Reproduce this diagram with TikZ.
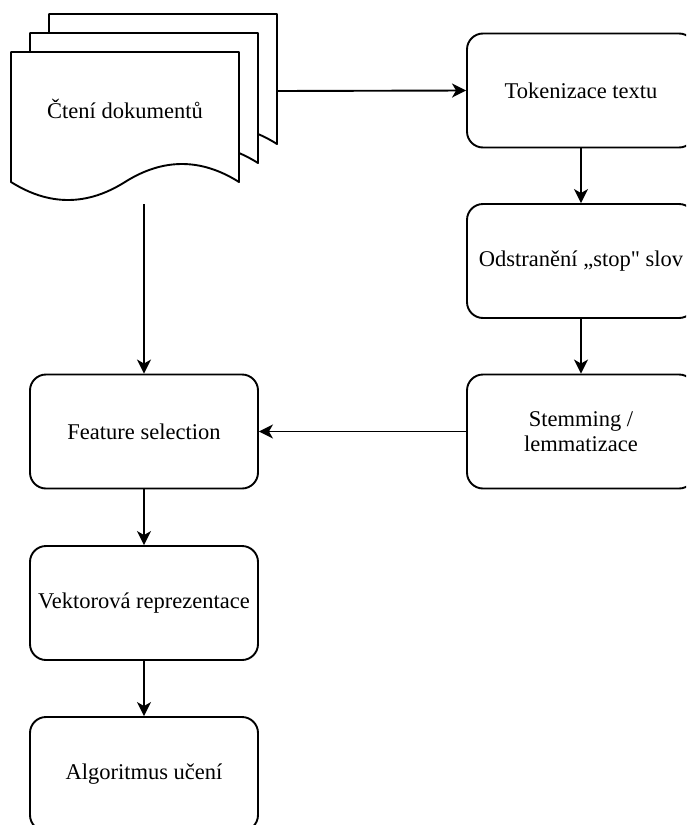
\documentclass[tikz,border=0pt]{standalone}
\usepackage{fontspec}
\setmainfont{Liberation Serif}[Ligatures=TeXOff]
\usetikzlibrary{arrows.meta}
\begin{document}
\begin{tikzpicture}[x=1pt,y=-1pt,
  line width=1.9pt,
  stepbox/.style={draw, rounded corners=16pt, minimum width=228pt,
    minimum height=114pt, align=center, inner sep=0pt,
    font=\fontsize{22.5}{25}\selectfont},
  flow/.style={-{Stealth[length=14pt,width=14pt,inset=4pt]}},
  sheet/.style={draw, fill=white, line join=round}
]
\useasboundingbox (0,0) rectangle (686,825);
\clip (0,0) rectangle (686,825);

% stack of three document sheets, back to front
\foreach \k in {2,1,0}{
  \draw[sheet, shift={(11+19*\k,52-19*\k)}]
    (0,0) -- (228,0) -- (228,130)
    .. controls (190,106) and (152,106) .. (114,130)
    .. controls (76,154) and (38,154) .. (0,130) -- cycle;
}
\node[font=\fontsize{22.5}{25}\selectfont] (docs) at (125,109) {Čtení dokumentů};
\coordinate (docsE) at (277,91);
\coordinate (docsS) at (144,204);

% processing steps
\node[stepbox] (tok)  at (581,90.5)  {Tokenizace textu};
\node[stepbox] (stop) at (581,261)   {Odstranění „stop" slov};
\node[stepbox] (stem) at (581,431.5) {Stemming /\\lemmatizace};
\node[stepbox] (feat) at (144,431.5) {Feature selection};
\node[stepbox] (vec)  at (144,603)   {Vektorová reprezentace};
\node[stepbox] (alg)  at (144,774)   {Algoritmus učení};

% connectors
\draw[flow] (docsE) -- (tok.west);
\draw[flow] (tok.south) -- (stop.north);
\draw[flow] (stop.south) -- (stem.north);
\draw[flow] (stem.west) -- (feat.east);
\draw[flow] (docsS) -- (feat.north);
\draw[flow] (feat.south) -- (vec.north);
\draw[flow] (vec.south) -- (alg.north);
\end{tikzpicture}
\end{document}
